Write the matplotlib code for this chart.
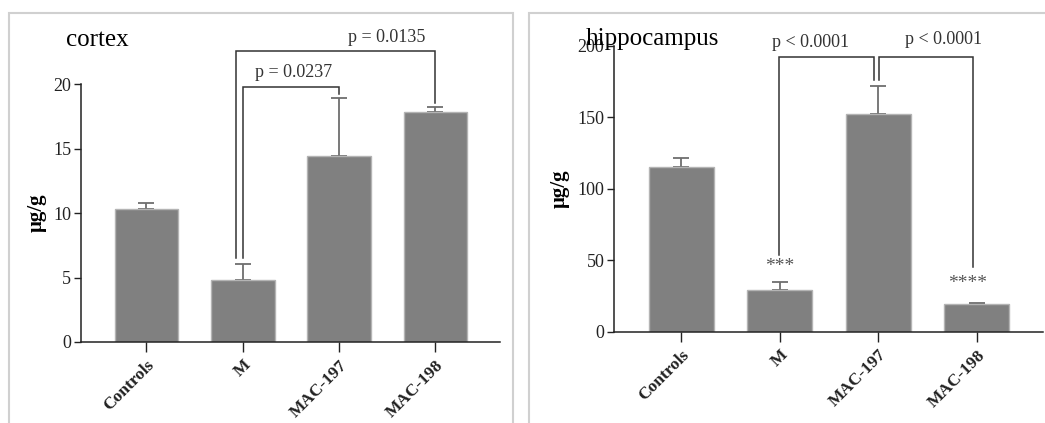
import matplotlib
matplotlib.use("Agg")
import matplotlib.pyplot as plt
from matplotlib.patches import Rectangle

plt.rcParams["font.family"] = ["Liberation Serif", "DejaVu Serif"]

groups = ["Controls", "M", "MAC-197", "MAC-198"]

cortex_mean = [10.3, 4.8, 14.45, 17.8]
cortex_sem = [0.45, 1.25, 4.45, 0.4]

hippo_mean = [115, 29.4, 152, 19.1]
hippo_sem = [6.2, 5.1, 19.6, 0.9]

W, H = 1045, 423
fig = plt.figure(figsize=(W / 100, H / 100), dpi=100)

BAR = "#808080"
INK = "#333333"


def px_axes(l, r, t, b):
    return fig.add_axes([l / W, 1 - b / H, (r - l) / W, (b - t) / H])


def bracket(ax, x1, x2, yb1, yb2, ytop):
    ax.plot([x1, x1, x2, x2], [yb1, ytop, ytop, yb2], color=INK, lw=1.1,
            clip_on=False, solid_joinstyle="miter")


def style(ax, ymax, step):
    x = range(len(groups))
    for s in ("top", "right"):
        ax.spines[s].set_visible(False)
    for s in ("left", "bottom"):
        ax.spines[s].set_color("#222222")
        ax.spines[s].set_linewidth(1.1)
    ax.set_ylim(0, ymax)
    ax.set_yticks(range(0, ymax + 1, step))
    ax.set_xlim(-0.68, 3.67)
    ax.set_xticks(list(x))
    ax.set_xticklabels(groups, rotation=45, ha="right", va="top",
                       rotation_mode="anchor", fontweight="bold", fontsize=12.5)
    ax.tick_params(axis="y", length=5, width=1, labelsize=13, pad=2,
                   colors="#222222")
    ax.tick_params(axis="x", length=7, width=1, pad=4, colors="#222222")
    ax.set_ylabel("μg/g", fontweight="bold", fontsize=15)


def bars(ax, mean, sem):
    x = range(len(groups))
    ax.bar(x, mean, width=0.66, color=BAR, edgecolor="#b4b4b4", linewidth=1,
           zorder=2)
    ax.errorbar(x, mean, yerr=[[0] * len(sem), sem], fmt="none",
                ecolor="#6e6e6e", elinewidth=1.3, capsize=6, capthick=1.3,
                zorder=1)


# cortex
ax1 = px_axes(81, 500, 84, 342)
bars(ax1, cortex_mean, cortex_sem)
style(ax1, 20, 5)
ax1.yaxis.set_label_coords(-0.081, 0.5)
bracket(ax1, 1.0, 2.0, 6.5, 19.2, 19.74)
bracket(ax1, 0.93, 3.0, 6.5, 18.5, 22.56)
ax1.text(1.53, 20.9, "p = 0.0237", ha="center", va="center", fontsize=13,
         color=INK, clip_on=False)
ax1.text(2.49, 23.6, "p = 0.0135", ha="center", va="center", fontsize=13,
         color=INK, clip_on=False)
fig.text(66 / W, 1 - 40 / H, "cortex", fontsize=18, va="center", ha="left")

# hippocampus
ax2 = px_axes(614, 1043, 45.7, 331.7)
bars(ax2, hippo_mean, hippo_sem)
style(ax2, 200, 50)
ax2.yaxis.set_label_coords(-0.103, 0.5)
bracket(ax2, 0.99, 1.96, 53.6, 176, 192.3)
bracket(ax2, 2.01, 2.96, 176, 45.5, 192.3)
ax2.text(1.31, 202, "p < 0.0001", ha="center", va="center", fontsize=13,
         color=INK, clip_on=False)
ax2.text(2.66, 204, "p < 0.0001", ha="center", va="center", fontsize=13,
         color=INK, clip_on=False)
ax2.text(1.0, 45.5, "***", ha="center", va="center", fontsize=14,
         color="#555555")
ax2.text(2.9, 33.8, "****", ha="center", va="center", fontsize=14,
         color="#555555")
fig.text(585.7 / W, 1 - 39 / H, "hippocampus", fontsize=18, va="center",
         ha="left")

# panel frames
for l, r in ((9, 513), (529, 1100)):
    fig.patches.append(Rectangle((l / W, -0.1), (r - l) / W, 1.1 - 13 / H,
                                 transform=fig.transFigure, fill=False,
                                 edgecolor="#d0d0d0", linewidth=1.5))

fig.savefig("out.png", dpi=100)
